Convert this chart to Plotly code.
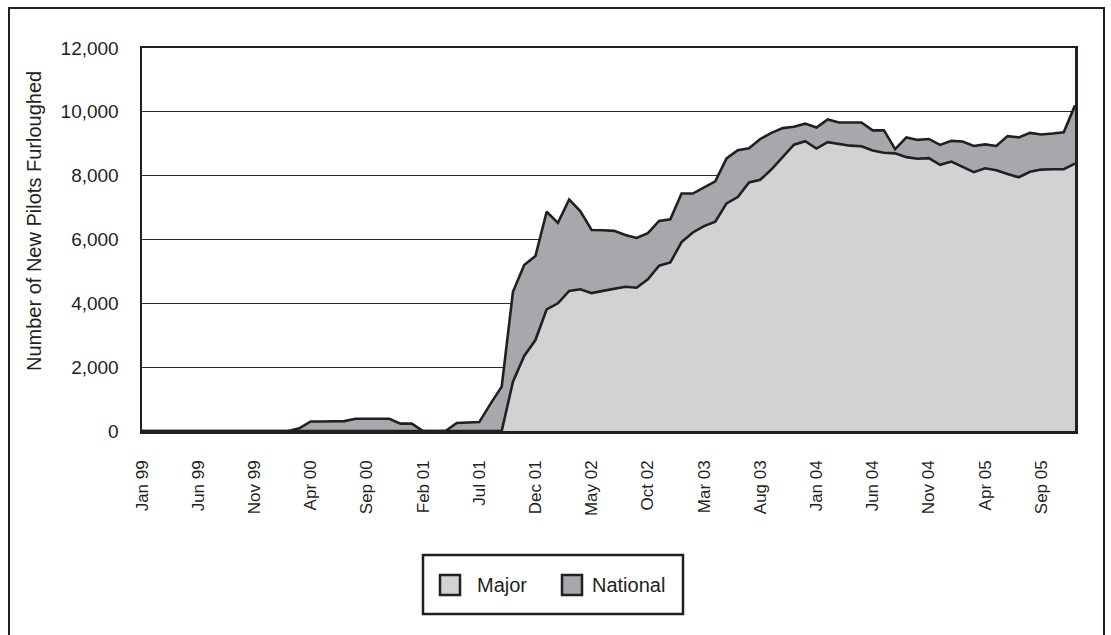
import plotly.graph_objects as go

month_names = ["Jan", "Feb", "Mar", "Apr", "May", "Jun", "Jul", "Aug", "Sep", "Oct", "Nov", "Dec"]
years = ["99", "00", "01", "02", "03", "04", "05"]
months = [f"{m} {y}" for y in years for m in month_names]  # Jan 99 .. Dec 05

tick_labels = ["Jan 99", "Jun 99", "Nov 99", "Apr 00", "Sep 00", "Feb 01", "Jul 01",
               "Dec 01", "May 02", "Oct 02", "Mar 03", "Aug 03", "Jan 04", "Jun 04",
               "Nov 04", "Apr 05", "Sep 05"]

major = [0] * 33 + [
    1545, 2350, 2850, 3810, 4000, 4390, 4440, 4320, 4390,          # Oct 01 - Jun 02
    4460, 4520, 4490, 4750, 5180, 5280, 5920, 6220, 6420, 6560,    # Jul 02 - Apr 03
    7130, 7330, 7790, 7870, 8200, 8590, 8970, 9080, 8850, 9050,    # May 03 - Feb 04
    8990, 8940, 8920, 8790, 8720, 8700, 8580, 8530, 8550, 8340,    # Mar 04 - Dec 04
    8440, 8280, 8110, 8230, 8170, 8050, 7950, 8120, 8190, 8200,    # Jan 05 - Oct 05
    8200, 8380]                                                    # Nov 05 - Dec 05

national = [0] * 14 + [
    85, 300, 300, 300, 310, 385, 385, 385, 385, 230,            # Mar 00 - Dec 00
    230, 0, 0, 0, 250, 265, 280, 850, 1390, 2815,               # Jan 01 - Oct 01
    2850, 2630, 3060, 2520, 2865, 2440, 1980, 1900, 1810, 1620, # Nov 01 - Aug 02
    1560, 1450, 1400, 1350, 1520, 1220, 1220, 1260, 1410, 1470, # Sep 02 - Jun 03
    1070, 1280, 1140, 900, 560, 550, 660, 710, 675, 725,        # Jul 03 - Apr 04
    745, 630, 705, 130, 620, 590, 600, 625, 650, 790,           # May 04 - Feb 05
    820, 750, 760, 1190, 1250, 1220, 1100, 1120, 1160, 1825]    # Mar 05 - Dec 05

series_names = ["Major", "National"]
series_fill = ["#d1d2d4", "#a7a8ab"]

FONT = "Liberation Sans, Arial, Helvetica, sans-serif"
INK = "#231f20"

fig = go.Figure()
for name, vals, col in zip(series_names, [major, national], series_fill):
    fig.add_trace(go.Scatter(
        x=months, y=vals, name=name, mode="lines", stackgroup="one",
        line=dict(color=INK, width=2.6), fillcolor=col, showlegend=False,
        hoverinfo="skip"))

L, R, T, B = 142, 36, 48, 204
W, H = 1111, 635
pw, ph = W - L - R, H - T - B


def px_x(px):
    return (px - L) / pw


def px_y(py):
    return (H - B - py) / ph


shapes = [
    # outer frame
    dict(type="rect", xref="paper", yref="paper",
         x0=px_x(9), x1=px_x(1104), y0=px_y(645), y1=px_y(8),
         line=dict(color=INK, width=2), fillcolor="rgba(0,0,0,0)", layer="below"),
    # legend box
    dict(type="rect", xref="paper", yref="paper",
         x0=px_x(423), x1=px_x(683), y0=px_y(614), y1=px_y(555),
         line=dict(color=INK, width=2.5), fillcolor="white", layer="above"),
]
annotations = [dict(
    text="Number of New Pilots Furloughed", textangle=-90,
    xref="paper", yref="paper", x=px_x(34), y=px_y(221),
    xanchor="center", yanchor="middle", showarrow=False,
    font=dict(family=FONT, size=20, color=INK))]

legend_sq_x = [440, 562]
legend_tx_x = [475, 590]
for name, col, sx, tx in zip(series_names, series_fill, legend_sq_x, legend_tx_x):
    shapes.append(dict(type="rect", xref="paper", yref="paper",
                       x0=px_x(sx), x1=px_x(sx + 20), y0=px_y(595), y1=px_y(575),
                       line=dict(color=INK, width=2.5), fillcolor=col, layer="above"))
    annotations.append(dict(text=name, xref="paper", yref="paper",
                            x=px_x(tx), y=px_y(585), xanchor="left", yanchor="middle",
                            showarrow=False, font=dict(family=FONT, size=20, color=INK)))

fig.update_layout(
    width=W, height=H,
    margin=dict(l=L, r=R, t=T, b=B, autoexpand=False),
    paper_bgcolor="white", plot_bgcolor="white",
    font=dict(family=FONT, size=16, color=INK),
    showlegend=False,
    xaxis=dict(
        type="category", categoryorder="array", categoryarray=months,
        range=[0, len(months) - 1],
        tickmode="array", tickvals=tick_labels, ticktext=tick_labels,
        tickangle=-90, ticks="", ticklabelstandoff=20,
        showgrid=False, showline=True, mirror=True, linecolor=INK, linewidth=2.5,
        tickfont=dict(family=FONT, size=17, color=INK),
    ),
    yaxis=dict(
        range=[0, 12000], dtick=2000, tickformat=",", ticks="",
        ticklabelstandoff=17,
        showgrid=True, gridcolor="#2b2b2b", gridwidth=1.2,
        zeroline=False, showline=True, mirror=True, linecolor=INK, linewidth=2.5,
        tickfont=dict(family=FONT, size=19, color=INK),
    ),
    shapes=shapes,
    annotations=annotations,
)

fig.write_html("out.html", config={"displayModeBar": False, "staticPlot": True},
               post_script="document.body.style.margin='0px';")
